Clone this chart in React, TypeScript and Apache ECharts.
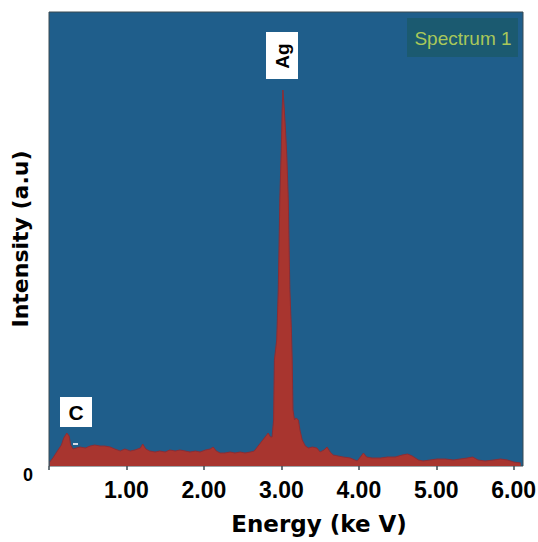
import React, { useEffect, useRef } from "react";
import * as echarts from "echarts";

// Energy (keV) of each sampled point
const energy = [
  0.01, 0.05, 0.10, 0.16, 0.19, 0.23, 0.26, 0.28, 0.31, 0.35, 0.40, 0.47, 0.53, 0.59, 0.66, 0.72, 0.79, 0.85, 0.92, 0.98,
  1.05, 1.11, 1.18, 1.21, 1.25, 1.30, 1.37, 1.43, 1.50, 1.56, 1.63, 1.69, 1.76, 1.82, 1.89, 1.95,
  2.02, 2.08, 2.12, 2.16, 2.21, 2.27, 2.34, 2.40, 2.47, 2.53, 2.60, 2.65, 2.69, 2.73, 2.76, 2.80, 2.83, 2.86, 2.88, 2.90,
  2.91, 2.94, 2.96, 2.97, 2.98, 3.00, 3.01, 3.02, 3.03, 3.05, 3.07, 3.09, 3.10, 3.11, 3.13, 3.14, 3.15, 3.17, 3.19, 3.22,
  3.24, 3.27, 3.31, 3.35, 3.40, 3.46, 3.50, 3.55, 3.59, 3.63, 3.67, 3.73, 3.80, 3.89, 3.98,
  4.03, 4.06, 4.10, 4.17, 4.28, 4.37, 4.47, 4.56, 4.63, 4.69, 4.77, 4.83, 4.92,
  5.01, 5.12, 5.22, 5.31, 5.40, 5.47, 5.54, 5.63, 5.74, 5.83, 5.92, 6.00, 6.09,
];

// Intensity (a.u.) at each energy
const intensity = [
  4, 8, 14, 21, 28, 33, 30, 21, 17, 18, 19, 18, 20, 21, 20, 20, 19, 17, 15, 17,
  15, 16, 18, 22, 17, 15, 14, 15, 14, 16, 15, 16, 15, 14, 15, 14,
  16, 17, 19, 15, 13, 13, 14, 13, 14, 13, 14, 15, 19, 23, 26, 30, 33, 29, 29, 46,
  106, 126, 176, 219, 266, 319, 356, 376, 366, 341, 311, 266, 219, 176, 136, 106, 56, 46, 48, 46,
  36, 26, 20, 18, 19, 18, 14, 16, 19, 14, 11, 10, 9, 8, 5,
  10, 13, 9, 8, 8, 9, 9, 11, 12, 10, 6, 5, 6,
  7, 7, 6, 7, 8, 9, 6, 5, 6, 7, 6, 4, 3,
];

const xTicks = [1, 2, 3, 4, 5, 6];
const peakLabels = ["Ag", "C"];
const spectrumName = "Spectrum 1";

export default function App() {
  const ref = useRef<HTMLDivElement>(null);
  useEffect(() => {
    if (!ref.current) return;
    const chart = echarts.init(ref.current, null, { renderer: "svg" });
    const data = energy.map((e, i) => [e, intensity[i]]);
    const boldFont = "'DejaVu Sans', sans-serif";
    chart.setOption({
      animation: false,
      backgroundColor: "#ffffff",
      grid: {
        left: 49,
        top: 12,
        width: 474,
        height: 454,
        containLabel: false,
        outerBoundsMode: "none",
        show: true,
        backgroundColor: "#1f5e8b",
        borderColor: "#3b4a52",
        borderWidth: 1,
      },
      xAxis: {
        type: "value",
        min: 0,
        max: 6.12,
        interval: 1,
        name: "Energy (ke V)",
        nameLocation: "middle",
        nameGap: 46,
        nameMoveOverlap: false,
        nameTextStyle: {
          fontFamily: boldFont,
          fontWeight: "bold",
          fontSize: 23,
          color: "#000",
          padding: [0, 0, 0, 66],
        },
        axisLine: { show: false },
        axisTick: { show: true, length: 4, lineStyle: { color: "#3b4a52", width: 1.5 } },
        splitLine: { show: false },
        axisLabel: {
          margin: 12,
          fontFamily: "'Liberation Sans', sans-serif",
          fontWeight: "bold",
          fontSize: 23,
          color: "#000",
          showMaxLabel: false,
          formatter: (v: number) => (xTicks.includes(v) ? v.toFixed(2) : ""),
        },
      },
      yAxis: {
        type: "value",
        min: 0,
        max: 454,
        interval: 454,
        name: "Intensity (a.u)",
        nameLocation: "middle",
        nameGap: 18,
        nameRotate: 90,
        nameMoveOverlap: false,
        nameTextStyle: {
          fontFamily: boldFont,
          fontWeight: "bold",
          fontSize: 22,
          color: "#000",
        },
        axisLine: { show: false },
        axisTick: { show: false },
        splitLine: { show: false },
        axisLabel: {
          margin: 16,
          verticalAlign: "top",
          fontFamily: "'Liberation Sans', sans-serif",
          fontWeight: "bold",
          fontSize: 18,
          color: "#000",
          formatter: (v: number) => (v === 0 ? "0" : ""),
        },
      },
      series: [
        {
          type: "line",
          data,
          symbol: "none",
          smooth: false,
          lineStyle: { width: 1, color: "#8a2e36" },
          areaStyle: { color: "#a8352f", opacity: 1 },
          z: 2,
        },
      ],
      graphic: [
        {
          type: "rect",
          shape: { x: 407, y: 18, width: 111, height: 39 },
          style: { fill: "#1b5a70" },
          z: 10,
        },
        {
          type: "text",
          x: 463,
          y: 38,
          style: {
            text: spectrumName,
            fontFamily: "'Liberation Sans', sans-serif",
            fontSize: 19,
            fill: "#a9c85a",
            align: "center",
            verticalAlign: "middle",
          },
          z: 11,
        },
        {
          type: "rect",
          shape: { x: 266, y: 32, width: 32, height: 47 },
          style: { fill: "#ffffff" },
          z: 10,
        },
        {
          type: "text",
          x: 282,
          y: 56,
          rotation: Math.PI / 2,
          style: {
            text: peakLabels[0],
            fontFamily: "'Liberation Sans', sans-serif",
            fontWeight: "bold",
            fontSize: 19,
            fill: "#000",
            align: "center",
            verticalAlign: "middle",
          },
          z: 11,
        },
        {
          type: "rect",
          shape: { x: 60, y: 397, width: 32, height: 30 },
          style: { fill: "#ffffff" },
          z: 10,
        },
        {
          type: "text",
          x: 76,
          y: 412,
          style: {
            text: peakLabels[1],
            fontFamily: "'Liberation Sans', sans-serif",
            fontWeight: "bold",
            fontSize: 21,
            fill: "#000",
            align: "center",
            verticalAlign: "middle",
          },
          z: 11,
        },
        {
          type: "rect",
          shape: { x: 73, y: 443, width: 5, height: 2 },
          style: { fill: "#d6dbe6" },
          z: 10,
        },
      ],
    });
    return () => chart.dispose();
  }, []);
  return (
    <div
      ref={ref}
      style={{ position: "absolute", left: 0, top: 0, width: 538, height: 542 }}
    />
  );
}
